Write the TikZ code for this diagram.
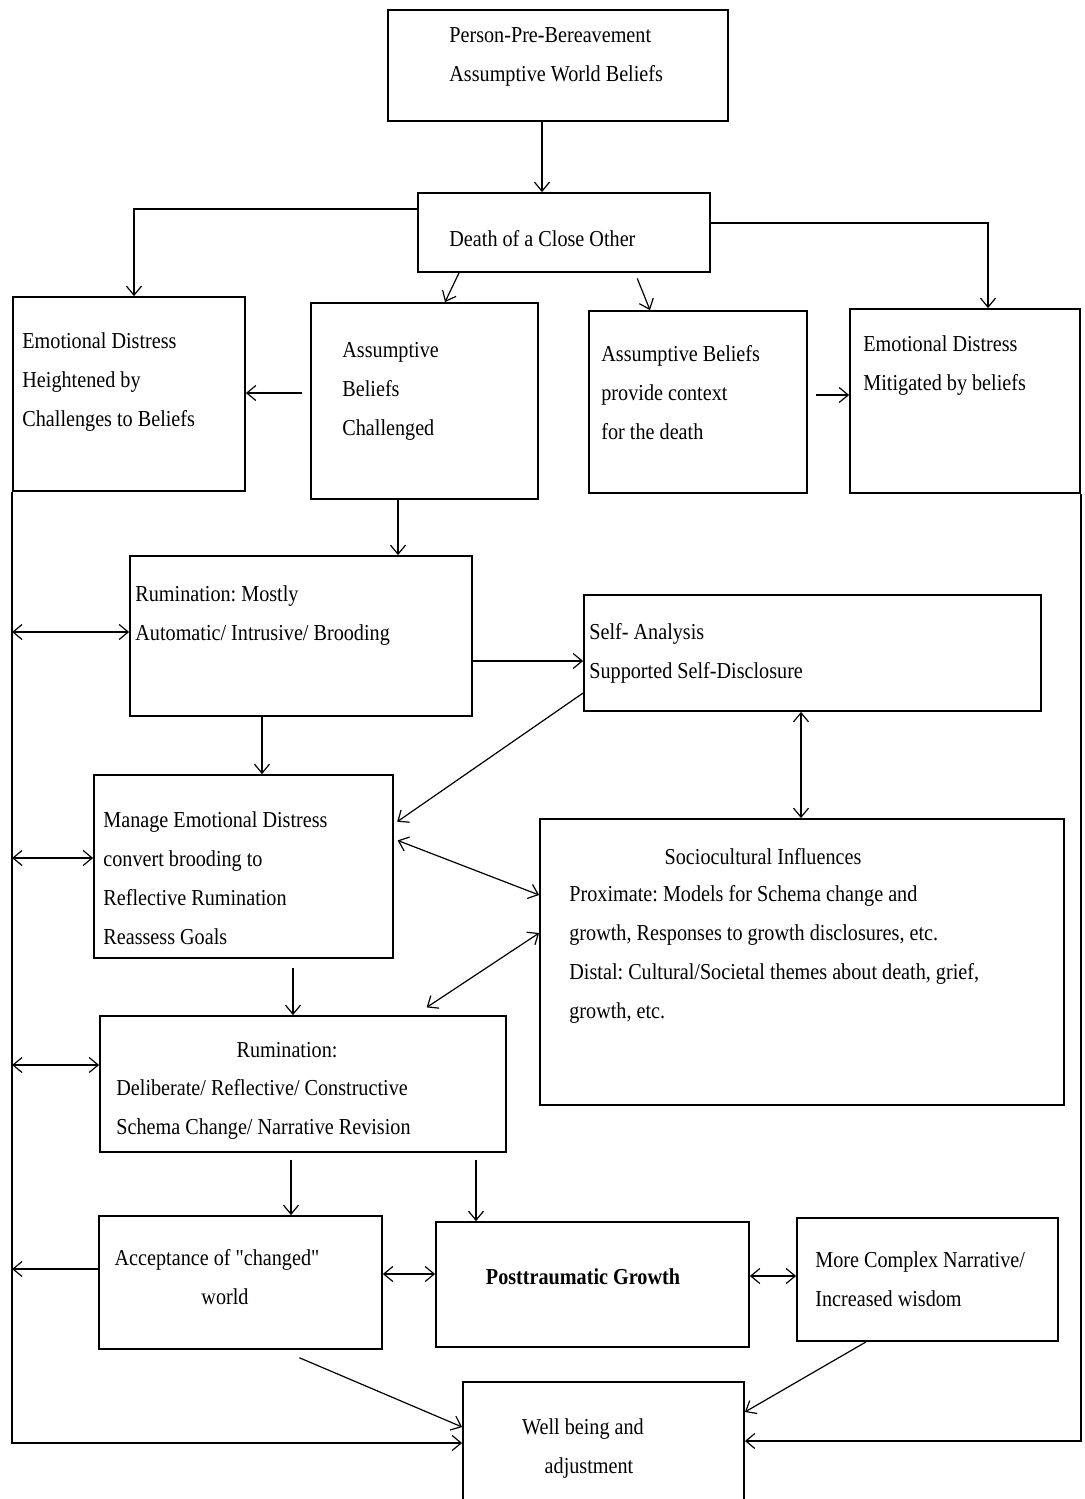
\documentclass[tikz,border=0pt]{standalone}
\usepackage{fontspec}
\setmainfont{Liberation Serif}[FakeStretch=0.885]
\newfontfamily\plainq{Liberation Serif}[FakeStretch=0.885]
\usetikzlibrary{arrows.meta,fit}
\begin{document}
\frenchspacing
\begin{tikzpicture}[x=0.5pt,y=-0.5pt,
  box/.style={draw,line width=0.9pt,inner sep=0pt},
  txt/.style={inner sep=0pt,align=left,font=\fontsize{11.4pt}{19.5pt}\selectfont},
  ctxt/.style={inner sep=0pt,align=center,font=\fontsize{11.4pt}{19.5pt}\selectfont},
  conn/.style={line width=0.6pt},
  arr/.style={conn,-{Straight Barb[length=4.5pt,width=7.5pt]}},
  darr/.style={conn,{Straight Barb[length=4.5pt,width=7.5pt]}-{Straight Barb[length=4.5pt,width=7.5pt]}},
  longline/.style={line width=0.9pt,-{Straight Barb[length=4.5pt,width=7.5pt,line width=0.6pt]}}]
\useasboundingbox (0,0) rectangle (1085,1499);
\fill[white] (0,0) rectangle (1085,1499);
\clip (0,0) rectangle (1085,1499);

% boxes
\node[box,fit={(388,10) (728,121)}] (b1) {};
\node[box,fit={(418,193) (710,272)}] (b2) {};
\node[box,fit={(13,297) (245,491)}] (b3) {};
\node[box,fit={(311,303) (538,499)}] (b4) {};
\node[box,fit={(589,311) (807,493)}] (b5) {};
\node[box,fit={(850,309) (1080,493)}] (b6) {};
\node[box,fit={(130,556) (472,716)}] (r1) {};
\node[box,fit={(584,595) (1041,711)}] (sa) {};
\node[box,fit={(94,775) (393,958)}] (m) {};
\node[box,fit={(540,819) (1064,1105)}] (soc) {};
\node[box,fit={(100,1016) (506,1152)}] (r2) {};
\node[box,fit={(99,1216) (382,1349)}] (a) {};
\node[box,fit={(436,1222) (749,1347)}] (ptg) {};
\node[box,fit={(797,1218) (1058,1341)}] (mc) {};
\node[box,fit={(463,1382) (744,1520)}] (wb) {};

% texts
\node[txt,anchor=west] (t1) at (449,57) {Person-Pre-Bereavement\\Assumptive World Beliefs};
\node[txt,anchor=west] (t2) at (449,239) {Death of a Close Other};
\node[txt,anchor=west] (t3) at (22,382) {Emotional Distress\\Heightened by\\Challenges to Beliefs};
\node[txt,anchor=west] (t4) at (342,391) {Assumptive\\Beliefs\\Challenged};
\node[txt,anchor=west] (t5) at (601,393) {Assumptive Beliefs\\provide context\\for the death};
\node[txt,anchor=west] (t6) at (863,366) {Emotional Distress\\Mitigated by beliefs};
\node[txt,anchor=west] (tr1) at (135,616) {Rumination: Mostly\\Automatic/ Intrusive/ Brooding};
\node[txt,anchor=west] (tsa) at (589,653) {Self- Analysis\\Supported Self-Disclosure};
\node[txt,anchor=west] (tm) at (103,878) {Manage Emotional Distress\\convert brooding to\\Reflective Rumination\\Reassess Goals};
\node[ctxt] (tsoc1) at (763,857) {Sociocultural Influences};
\node[txt,anchor=west] (tsoc2) at (569,954) {Proximate: Models for Schema change and\\growth, Responses to growth disclosures, etc.\\Distal: Cultural/Societal themes about death, grief,\\growth, etc.};
\node[ctxt] (tr2a) at (287,1050) {Rumination:};
\node[txt,anchor=west] (tr2b) at (116,1109) {Deliberate/ Reflective/ Constructive\\Schema Change/ Narrative Revision};
\node[ctxt] (ta) at (217,1277) {Acceptance of {\plainq"}changed{\plainq"}\\\hspace*{8pt}world};
\node[ctxt,font=\fontsize{11.4pt}{19.5pt}\selectfont\bfseries] (tptg) at (583,1277) {Posttraumatic Growth};
\node[txt,anchor=west] (tmc) at (815,1279) {More Complex Narrative/\\Increased wisdom};
\node[ctxt] (twb) at (583,1448) {Well being and\\\hspace*{6pt}adjustment};

% connectors
\draw[arr] (b1.south -| 542,0) -- (b2.north -| 542,0);
\draw[arr] (b2.west |- 0,209) -| (b3.north -| 134,0);
\draw[arr] (b2.east |- 0,223) -| (b6.north -| 988,0);
\draw[arr] (b2.south -| 459,0) -- (b4.north -| 445,0);
\draw[arr,shorten <=3pt] (b2.south -| 635,0) -- (b5.north -| 650,0);
\draw[arr,shorten <=4pt] (b4.west |- 0,393) -- (b3.east |- 0,393);
\draw[arr,shorten <=4pt] (b5.east |- 0,395) -- (b6.west |- 0,395);
\draw[arr] (b4.south -| 398,0) -- (r1.north -| 398,0);
\draw[longline] (b3.south west) |- (wb.west |- 0,1443);
\draw[longline] (b6.south east) |- (wb.east |- 0,1441);
\draw[darr] (b3.south west |- 0,632) -- (r1.west |- 0,632);
\draw[arr] (r1.east |- 0,661) -- (sa.west |- 0,661);
\draw[arr] (r1.south -| 262,0) -- (m.north -| 262,0);
\draw[arr,shorten >=2pt] (sa.west |- 0,693) -- (m.east |- 0,824);
\draw[darr,shorten <=2pt] (m.east |- 0,839) -- (soc.west |- 0,895);
\draw[darr] (sa.south -| 801,0) -- (soc.north -| 801,0);
\draw[darr] (b3.south west |- 0,858) -- (m.west |- 0,858);
\draw[arr,shorten <=4.5pt] (m.south -| 293,0) -- (r2.north -| 293,0);
\draw[darr,shorten >=7pt] (soc.west |- 0,933) -- (r2.north -| 415,0);
\draw[darr] (b3.south west |- 0,1065) -- (r2.west |- 0,1065);
\draw[arr,shorten <=3.5pt] (r2.south -| 291,0) -- (a.north -| 291,0);
\draw[arr,shorten <=3.5pt] (r2.south -| 476,0) -- (ptg.north -| 476,0);
\draw[arr] (a.west |- 0,1269) -- (b3.south west |- 0,1269);
\draw[darr] (a.east |- 0,1274) -- (ptg.west |- 0,1274);
\draw[darr] (ptg.east |- 0,1276) -- (mc.west |- 0,1276);
\draw[arr,shorten <=10pt] (a.south -| 281,0) -- (wb.west |- 0,1427);
\draw[arr] (mc.south -| 866,0) -- (wb.east |- 0,1412);
\end{tikzpicture}
\end{document}
